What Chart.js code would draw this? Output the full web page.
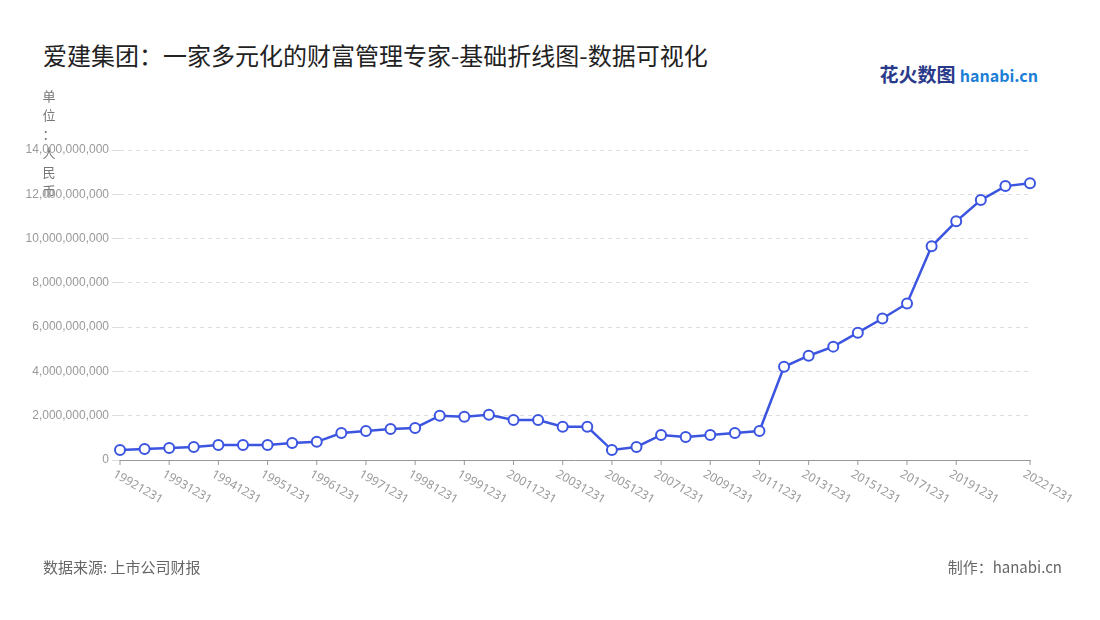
<!DOCTYPE html><html><head><meta charset="utf-8">
<script src="https://cdn.jsdelivr.net/npm/chart.js@4"></script>
<style>body{margin:0;width:1100px;height:620px;background:#fff;font-family:"Noto Sans CJK SC","Noto Sans",sans-serif;position:relative;overflow:hidden}
#t{position:absolute;left:43px;top:37px;font-size:24px;color:#222}
#u{position:absolute;left:42px;top:86px;font-size:13px;color:#777;width:14px;line-height:19px;text-align:center}
#s{position:absolute;left:43px;top:556px;font-size:15px;color:#666}
#m{position:absolute;right:38px;top:556px;font-size:15px;color:#666}
#l{position:absolute;right:62px;top:60px;font-size:19px;font-weight:bold;color:#2a3a8a}
#l span{color:#1c7fd6;font-size:16px}
#c{position:absolute;left:0;top:0}</style></head><body>
<div id="t">爱建集团：一家多元化的财富管理专家-基础折线图-数据可视化</div>
<div id="l">花火数图 <span>hanabi.cn</span></div>
<div id="c"><canvas id="cv" width="1100" height="620"></canvas></div>
<div id="u">单<br>位<br>：<br>人<br>民<br>币</div>
<div id="s">数据来源: 上市公司财报</div>
<div id="m">制作：hanabi.cn</div>
<script>
const categories=['19921231','19930630','19931231','19940630','19941231','19950630','19951231','19960630','19961231','19970630','19971231','19980630','19981231','19990630','19991231','20001231','20011231','20021231','20031231','20041231','20051231','20061231','20071231','20081231','20091231','20101231','20111231','20121231','20131231','20141231','20151231','20161231','20171231','20181231','20191231','20201231','20211231','20221231'];
const valuesBillion=[0.45,0.5,0.54,0.59,0.68,0.68,0.68,0.77,0.82,1.22,1.31,1.4,1.45,2.0,1.95,2.04,1.81,1.81,1.5,1.5,0.45,0.59,1.13,1.04,1.13,1.22,1.31,4.21,4.71,5.12,5.75,6.39,7.07,9.65,10.78,11.74,12.37,12.5];
const values=valuesBillion.map(v=>v*1e9);
const xLabels={id:'xl',afterDraw(ch){const x=ch.scales.x,y=ch.scales.y,c=ch.ctx;c.save();c.fillStyle='#999';c.font='12px "Noto Sans","Noto Sans CJK SC",sans-serif';c.textBaseline='top';
categories.forEach((t,i)=>{if(i%2&&i!==categories.length-1)return;if(i===categories.length-2)return;const px=x.getPixelForValue(i);c.save();c.translate(px-3,y.bottom+8);c.rotate(Math.PI/6);c.fillText(t,0,0);c.restore();
c.strokeStyle='#999';c.beginPath();c.moveTo(px,y.bottom);c.lineTo(px,y.bottom+5);c.stroke();});c.restore();}};
new Chart(document.getElementById('cv'),{type:'line',
data:{labels:categories,datasets:[{data:values,borderColor:'#3c55e0',borderWidth:2.5,backgroundColor:'#fff',pointRadius:5,pointBorderWidth:2,pointBackgroundColor:'#fff',tension:0}]},
plugins:[xLabels],
options:{responsive:false,animation:false,plugins:{legend:{display:false},tooltip:{enabled:false}},
layout:{padding:{left:0,right:70,top:150,bottom:152}},
scales:{x:{grid:{display:false},border:{color:'#999'},ticks:{display:false}},
y:{min:0,max:14e9,afterFit:s=>{s.width=120},ticks:{stepSize:2e9,color:'#999',font:{size:12},callback:v=>v.toLocaleString('en-US')},grid:{color:'#ddd'},border:{display:false,dash:[4,4]}}}}});
</script></body></html>
